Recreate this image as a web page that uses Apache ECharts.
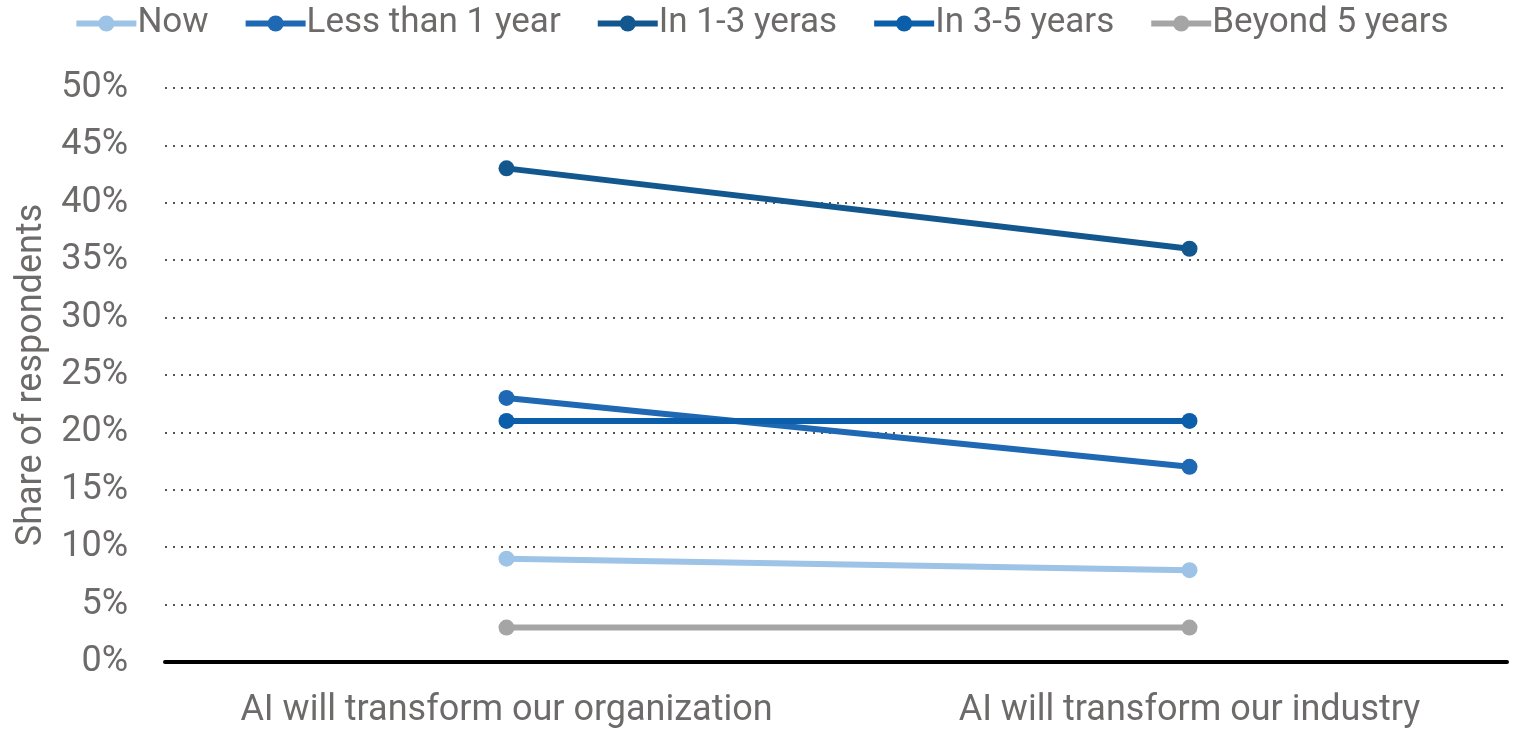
<!DOCTYPE html>
<html>
<head>
<meta charset="utf-8">
<script src="https://cdn.jsdelivr.net/npm/echarts@6/dist/echarts.min.js"></script>
<style>
  html, body { margin: 0; padding: 0; background: #fff; }
  #main { width: 1522px; height: 732px; }
</style>
</head>
<body>
<div id="main"></div>
<script>
var categories = ['AI will transform our organization', 'AI will transform our industry'];
var seriesNames = ['Now', 'Less than 1 year', 'In 1-3 yeras', 'In 3-5 years', 'Beyond 5 years'];
var nowVals = [9, 8];
var lessThan1Vals = [23, 17];
var in1to3Vals = [43, 36];
var in3to5Vals = [21, 21];
var beyond5Vals = [3, 3];
var colors = ['#9dc3e6', '#1f68b3', '#13578f', '#0b5ea9', '#a5a5a5'];

var textColor = '#6d6a6a';
var font = 'Roboto';

var myChart = echarts.init(document.getElementById('main'));

function makeSeries(name, data, color) {
    return {
        name: name,
        type: 'line',
        xAxisIndex: 1,
        yAxisIndex: 1,
        data: data,
        symbol: 'circle',
        symbolSize: 16,
        lineStyle: { width: 6, color: color },
        itemStyle: { color: color },
        emphasis: { disabled: true }
    };
}

var option = {
    animation: false,
    color: colors,
    textStyle: { fontFamily: font },
    legend: {
        top: 1,
        left: 'center',
        itemWidth: 60,
        itemHeight: 20,
        itemGap: 34,
        lineStyle: { width: 6 },
        textStyle: { fontSize: 35, color: textColor, fontFamily: font, padding: [0, 0, 0, -4] },
        data: seriesNames
    },
    grid: [
        { left: 165, width: 1342, top: 88, height: 574, outerBoundsMode: 'none', containLabel: false },
        { left: 165, width: 1366, top: 88, height: 574, outerBoundsMode: 'none', containLabel: false }
    ],
    xAxis: [
        {
            type: 'category',
            gridIndex: 0,
            data: categories,
            axisLine: { lineStyle: { color: '#000', width: 4 } },
            axisTick: { show: false },
            axisLabel: { show: false },
            splitLine: { show: false }
        },
        {
            type: 'category',
            gridIndex: 1,
            data: categories,
            axisLine: { show: false },
            axisTick: { show: false },
            axisLabel: { interval: 0, hideOverlap: false, fontSize: 36, color: textColor, margin: 31, fontFamily: font },
            splitLine: { show: false }
        }
    ],
    yAxis: [
        {
            type: 'value',
            gridIndex: 0,
            min: 0,
            max: 50,
            interval: 5,
            name: 'Share of respondents',
            nameLocation: 'middle',
            nameGap: 115,
            nameRotate: 90,
            nameTextStyle: { fontSize: 36, color: textColor, fontFamily: font },
            axisLine: { show: false },
            axisTick: { show: false },
            axisLabel: { formatter: '{value}%', fontSize: 36, color: textColor, margin: 37, fontFamily: font },
            splitLine: { lineStyle: { color: '#555', width: 2, type: [2, 6] } }
        },
        {
            type: 'value',
            gridIndex: 1,
            min: 0,
            max: 50,
            interval: 5,
            show: false,
            splitLine: { show: false }
        }
    ],
    series: [
        makeSeries(seriesNames[0], nowVals, colors[0]),
        makeSeries(seriesNames[1], lessThan1Vals, colors[1]),
        makeSeries(seriesNames[2], in1to3Vals, colors[2]),
        makeSeries(seriesNames[3], in3to5Vals, colors[3]),
        makeSeries(seriesNames[4], beyond5Vals, colors[4])
    ]
};
myChart.setOption(option);
</script>
</body>
</html>
